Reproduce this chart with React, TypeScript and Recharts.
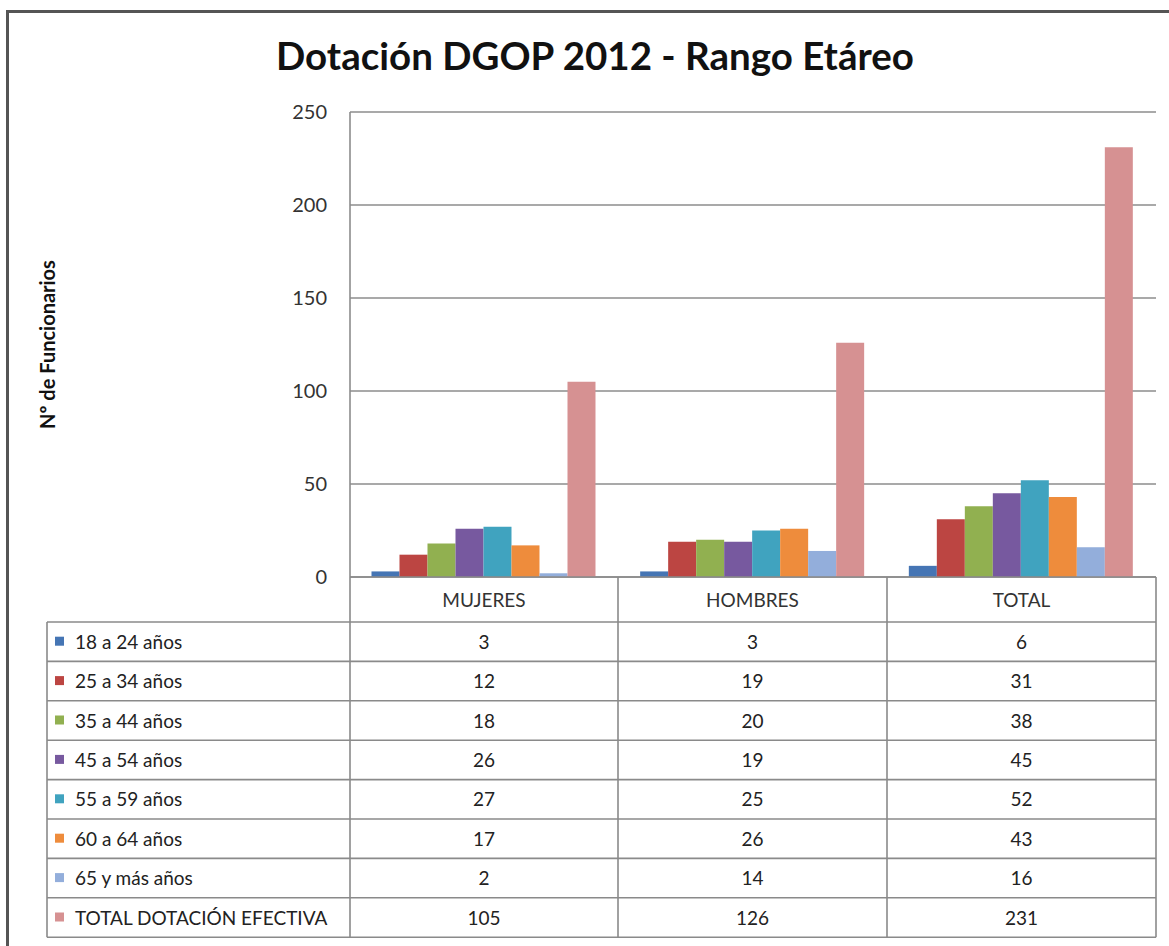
import { BarChart, Bar, XAxis, YAxis, CartesianGrid } from "recharts";

const categories = ["MUJERES", "HOMBRES", "TOTAL"];
const seriesNames = [
  "18 a 24 años",
  "25 a 34 años",
  "35 a 44 años",
  "45 a 54 años",
  "55 a 59 años",
  "60 a 64 años",
  "65 y más años",
  "TOTAL DOTACIÓN EFECTIVA",
];
const seriesColors = ["#4575B4", "#BC4542", "#91B050", "#77599F", "#40A3BF", "#EE8C3C", "#93AEDB", "#D69192"];

const age18to24 = [3, 3, 6];
const age25to34 = [12, 19, 31];
const age35to44 = [18, 20, 38];
const age45to54 = [26, 19, 45];
const age55to59 = [27, 25, 52];
const age60to64 = [17, 26, 43];
const age65plus = [2, 14, 16];
const totalDotacion = [105, 126, 231];
const seriesValues = [age18to24, age25to34, age35to44, age45to54, age55to59, age60to64, age65plus, totalDotacion];

const yTicks = [0, 50, 100, 150, 200, 250];

const data = categories.map((c, i) => {
  const row: Record<string, string | number> = { name: c };
  seriesValues.forEach((vals, s) => {
    row[`s${s}`] = vals[i];
  });
  return row;
});

// layout of the data table under the plot
const FONT = "Lato, 'Open Sans', sans-serif";
const colX = [47, 350, 618, 887, 1156];
const headerTop = 577;
const rowsTop = 622;
const rowH = 39.4;
const lineColor = "#8a8a8a";

function DataTable() {
  const bottom = rowsTop + rowH * seriesNames.length;
  return (
    <svg width={1169} height={946} style={{ position: "absolute", left: 0, top: 0, pointerEvents: "none" }}>
      {/* verticals */}
      {colX.slice(1).map((x) => (
        <line key={"v" + x} x1={x} x2={x} y1={headerTop} y2={bottom} stroke={lineColor} strokeWidth={1.6} />
      ))}
      <line x1={colX[0]} x2={colX[0]} y1={rowsTop} y2={bottom} stroke={lineColor} strokeWidth={1.6} />
      {/* horizontals */}
      <line x1={colX[1]} x2={colX[4]} y1={headerTop} y2={headerTop} stroke={lineColor} strokeWidth={1.6} />
      {seriesNames.map((_, i) => (
        <line key={"h" + i} x1={colX[0]} x2={colX[4]} y1={rowsTop + rowH * i} y2={rowsTop + rowH * i} stroke={lineColor} strokeWidth={1.6} />
      ))}
      <line x1={colX[0]} x2={colX[4]} y1={bottom} y2={bottom} stroke={lineColor} strokeWidth={1.6} />
      {/* header */}
      {categories.map((c, i) => (
        <text key={c} x={(colX[i + 1] + colX[i + 2]) / 2} y={(headerTop + rowsTop) / 2 + 7} textAnchor="middle" fontFamily={FONT} fontSize={19} fill="#333">
          {c}
        </text>
      ))}
      {/* rows */}
      {seriesNames.map((name, s) => {
        const cy = rowsTop + rowH * s + rowH / 2;
        return (
          <g key={name}>
            <rect x={55} y={cy - 5} width={9} height={9} fill={seriesColors[s]} />
            <text x={75} y={cy + 7} fontFamily={FONT} fontSize={19} fill="#222">
              {name}
            </text>
            {seriesValues[s].map((v, i) => (
              <text key={i} x={(colX[i + 1] + colX[i + 2]) / 2} y={cy + 7} textAnchor="middle" fontFamily={FONT} fontSize={19} fill="#222">
                {v}
              </text>
            ))}
          </g>
        );
      })}
    </svg>
  );
}

export default function App() {
  return (
    <div style={{ position: "absolute", left: 0, top: 0, width: 1169, height: 946, background: "#fff", overflow: "hidden" }}>
      <div
        style={{
          position: "absolute",
          left: 6,
          top: 10,
          width: 1200,
          height: 1000,
          borderLeft: "3px solid #555",
          borderTop: "3px solid #555",
        }}
      />
      <div
        style={{
          position: "absolute",
          left: 0,
          top: 32,
          width: 1190,
          textAlign: "center",
          fontFamily: FONT,
          fontWeight: 700,
          fontSize: 38.5,
          color: "#111",
        }}
      >
        Dotación DGOP 2012 - Rango Etáreo
      </div>
      <div style={{ position: "absolute", left: 0, top: 0 }}>
        <BarChart
          width={1169}
          height={946}
          data={data}
          margin={{ top: 112, right: 13, bottom: 369, left: 0 }}
          barCategoryGap="8%"
          barGap={0}
        >
          <CartesianGrid vertical={false} stroke="#8c8c8c" strokeWidth={1.5} />
          <XAxis dataKey="name" hide />
          <YAxis
            width={350}
            domain={[0, 250]}
            ticks={yTicks}
            interval={0}
            tickLine={false}
            axisLine={{ stroke: "#8c8c8c", strokeWidth: 1.6 }}
            tickMargin={17}
            tick={{ fill: "#333", fontSize: 20, fontFamily: FONT }}
            label={{
              value: "Nº de Funcionarios",
              angle: -90,
              position: "insideLeft",
              offset: 48,
              style: { textAnchor: "middle", fontFamily: FONT, fontWeight: 700, fontSize: 20, fill: "#111" },
            }}
          />
          {seriesNames.map((name, s) => (
            <Bar key={name} dataKey={`s${s}`} name={name} fill={seriesColors[s]} isAnimationActive={false} />
          ))}
        </BarChart>
      </div>
      <DataTable />
    </div>
  );
}
